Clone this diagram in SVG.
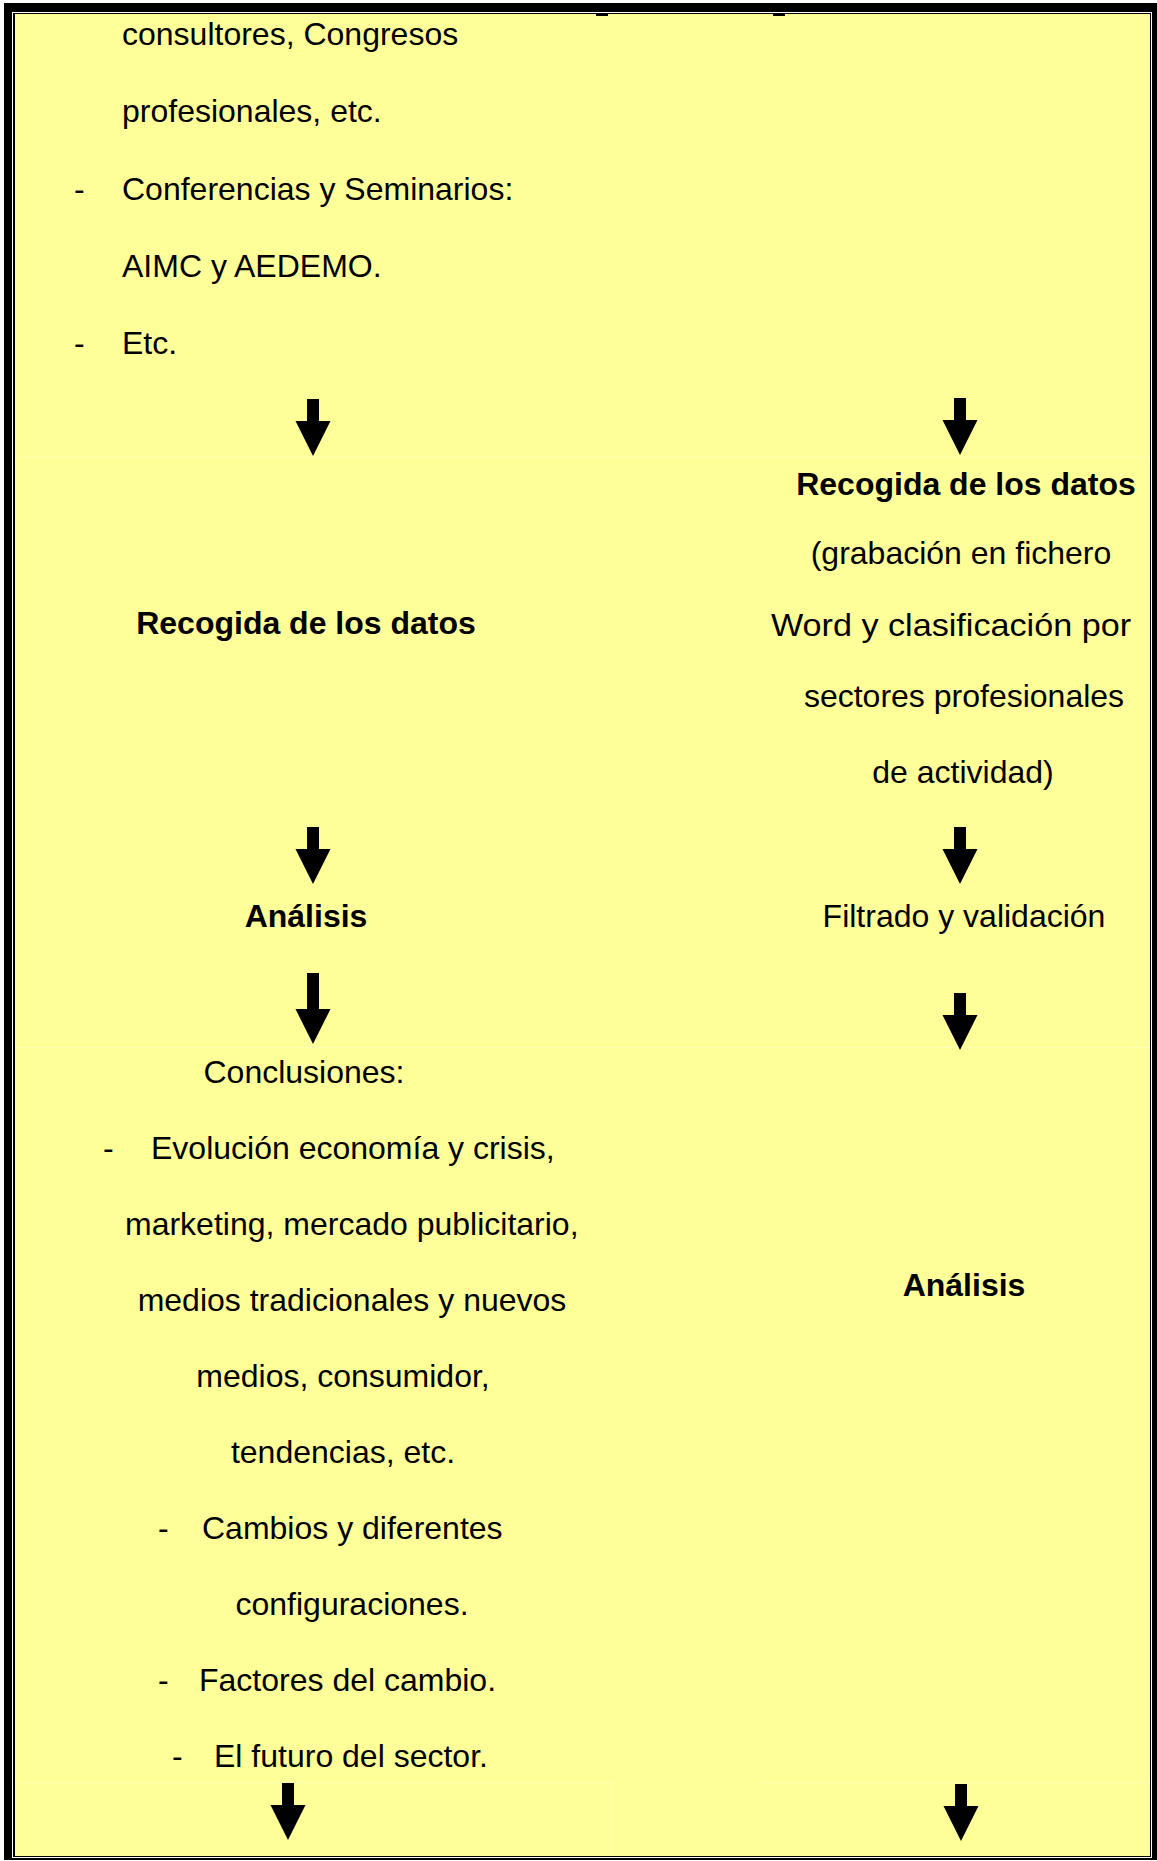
<svg xmlns="http://www.w3.org/2000/svg" width="1157" height="1861" viewBox="0 0 1157 1861">
  <style>
    .t { font-family: "Liberation Sans", Arial, sans-serif; font-size: 32px; fill: #000; }
    .b { font-weight: bold; }
    .c { text-anchor: middle; }
    .faint { stroke: #ffffb6; stroke-width: 1; fill: none; }
  </style>
  <defs>
    <!-- block arrow pointing down, tip at (0,0) -->
    <path id="arrowDown" d="M-6,-57 H6 V-35 H17.5 L0,0 L-17.5,-35 H-6 Z" fill="#000"/>
    <path id="arrowDownLong" d="M-6,-71 H6 V-35 H17.5 L0,0 L-17.5,-35 H-6 Z" fill="#000"/>
  </defs>

  <!-- page background and double frame -->
  <rect x="0" y="0" width="1157" height="1861" fill="#fff"/>
  <rect x="4" y="3" width="1153" height="1857" fill="#000"/>
  <rect x="12" y="12" width="1140" height="1846" fill="#fff"/>
  <rect x="13" y="13" width="1138" height="1844" fill="#000"/>
  <rect x="15" y="14" width="1135" height="1842" fill="#ffff99"/>
  <rect x="596" y="14" width="12" height="2" fill="#000"/>
  <rect x="773" y="14" width="12" height="2" fill="#000"/>

  <!-- light cell borders -->
  <g id="cell-borders">
    <line class="faint" x1="15" y1="457.5" x2="1150" y2="457.5"/>
    <line class="faint" x1="15" y1="1047.5" x2="1150" y2="1047.5"/>
    <line class="faint" x1="15" y1="1782.5" x2="612" y2="1782.5"/>
    <line class="faint" x1="612.5" y1="1782" x2="612.5" y2="1856"/>
    <line class="faint" x1="760" y1="1782.5" x2="1150" y2="1782.5"/>
  </g>

  <!-- left column: sources -->
  <g id="sources">
    <text class="t" x="122" y="45">consultores, Congresos</text>
    <text class="t" x="122" y="122">profesionales, etc.</text>
    <text class="t" x="74" y="200">-</text>
    <text class="t" x="122" y="200">Conferencias y Seminarios:</text>
    <text class="t" x="122" y="277">AIMC y AEDEMO.</text>
    <text class="t" x="74" y="354">-</text>
    <text class="t" x="122" y="354">Etc.</text>
  </g>

  <g id="left-collect">
    <text class="t b c" x="306" y="634">Recogida de los datos</text>
  </g>

  <g id="left-analysis">
    <text class="t b c" x="306" y="927">Análisis</text>
  </g>

  <g id="conclusions">
    <text class="t c" x="304" y="1083">Conclusiones:</text>
    <text class="t" x="103" y="1159">-</text>
    <text class="t" x="151" y="1159">Evolución economía y crisis,</text>
    <text class="t" x="125" y="1235">marketing, mercado publicitario,</text>
    <text class="t c" x="352" y="1311">medios tradicionales y nuevos</text>
    <text class="t c" x="343" y="1387">medios, consumidor,</text>
    <text class="t c" x="343" y="1463">tendencias, etc.</text>
    <text class="t" x="158" y="1539">-</text>
    <text class="t" x="202" y="1539">Cambios y diferentes</text>
    <text class="t c" x="352" y="1615">configuraciones.</text>
    <text class="t" x="158" y="1691">-</text>
    <text class="t" x="199" y="1691">Factores del cambio.</text>
    <text class="t" x="172" y="1767">-</text>
    <text class="t" x="214" y="1767">El futuro del sector.</text>
  </g>

  <!-- right column -->
  <g id="right-collect">
    <text class="t b c" x="966" y="495">Recogida de los datos</text>
    <text class="t c" x="961" y="564">(grabación en fichero</text>
    <text class="t c" x="951" y="636" textLength="360" lengthAdjust="spacingAndGlyphs">Word y clasificación por</text>
    <text class="t c" x="964" y="707">sectores profesionales</text>
    <text class="t c" x="963" y="783">de actividad)</text>
  </g>

  <g id="right-filter">
    <text class="t c" x="964" y="927">Filtrado y validación</text>
  </g>

  <g id="right-analysis">
    <text class="t b c" x="964" y="1296">Análisis</text>
  </g>

  <!-- connectors -->
  <g id="connectors">
    <use href="#arrowDown" x="313" y="456"/>
    <use href="#arrowDown" x="960" y="455"/>
    <use href="#arrowDown" x="313" y="884"/>
    <use href="#arrowDown" x="960" y="884"/>
    <use href="#arrowDownLong" x="313" y="1044"/>
    <use href="#arrowDown" x="960" y="1050"/>
    <use href="#arrowDown" x="288" y="1840"/>
    <use href="#arrowDown" x="961" y="1841"/>
  </g>
</svg>
